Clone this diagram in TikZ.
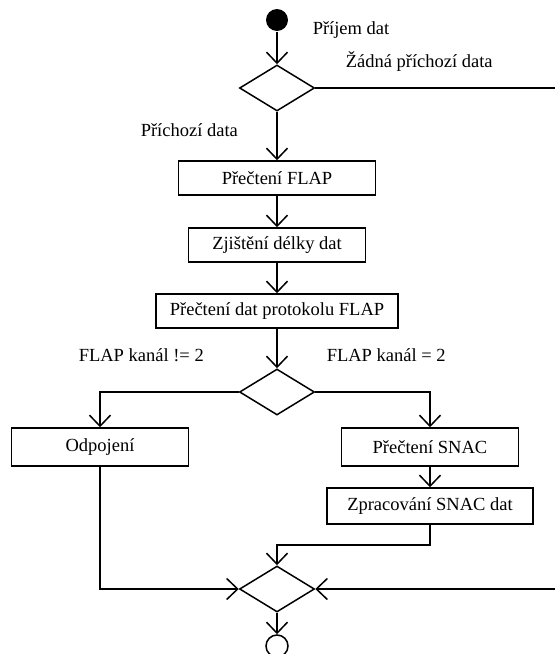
\documentclass[tikz,border=0pt]{standalone}
\usepackage{fontspec}
\setmainfont{Liberation Serif}
\usetikzlibrary{arrows.meta, shapes.geometric}

\begin{document}
\begin{tikzpicture}[>={Straight Barb[length=11pt,width=21pt]},x=1pt,y=-1pt,line width=1.5pt,
		font=\fontsize{18.5}{22}\selectfont,
		box/.style={draw,rectangle,minimum height=34pt,inner sep=0pt},
		decision/.style={draw,diamond,minimum width=75pt,minimum height=46pt,inner sep=0pt},
		lbl/.style={anchor=west,inner sep=0pt}]
		\useasboundingbox (0,0) rectangle (555,654);

		\node[circle,fill,inner sep=0pt,minimum size=22pt] (0) at (277,20)  {};
		\node[decision]                        (1) at (277,88)  {};
		\node[box,minimum width=197pt]         (2) at (277,178) {Přečtení FLAP};
		\node[box,minimum width=177pt]         (3) at (277,245) {Zjištění délky dat};
		\node[box,minimum width=242pt]         (4) at (277,311) {Přečtení dat protokolu FLAP};
		\node[decision]                        (5) at (277,392) {};
		\node[box,minimum width=177pt,minimum height=38pt] (6) at (100,447) {Odpojení};
		\node[box,minimum width=177pt,minimum height=38pt] (7) at (430,447) {Přečtení SNAC};
		\node[box,minimum width=206pt,minimum height=36pt] (8) at (430,506) {Zpracování SNAC dat};
		\node[decision]                        (9) at (277,589) {};
		\node[circle,draw,inner sep=0pt,minimum size=22pt] (10) at (277,646) {};

		\coordinate (r1) at (555,88);
		\coordinate (r2) at (555,589);
		\coordinate (m)  at (277,545);

		\node[lbl] (a) at (312,30)  {Příjem dat};
		\node[lbl] (b) at (345,62)  {Žádná příchozí data};
		\node[lbl] (c) at (140,130) {Příchozí data};
		\node[lbl] (d) at (78,355)  {FLAP kanál != 2};
		\node[lbl] (e) at (326,355) {FLAP kanál = 2};

		\draw[->] (0) -- (1);
		\draw[->] (1) -- (2);
		\draw     (1) -- (r1);
		\draw[->] (2) -- (3);
		\draw[->] (3) -- (4);
		\draw[->] (4) -- (5);
		\draw[->] (5) -| (6);
		\draw[->] (5) -| (7);
		\draw[->] (7) -- (8);
		\draw[->] (8) |- (m) -- (9);
		\draw[->] (6) |- (9);
		\draw[->] (r2) -- (9);
		\draw[->] (9) -- (10);
	\end{tikzpicture}
\end{document}
